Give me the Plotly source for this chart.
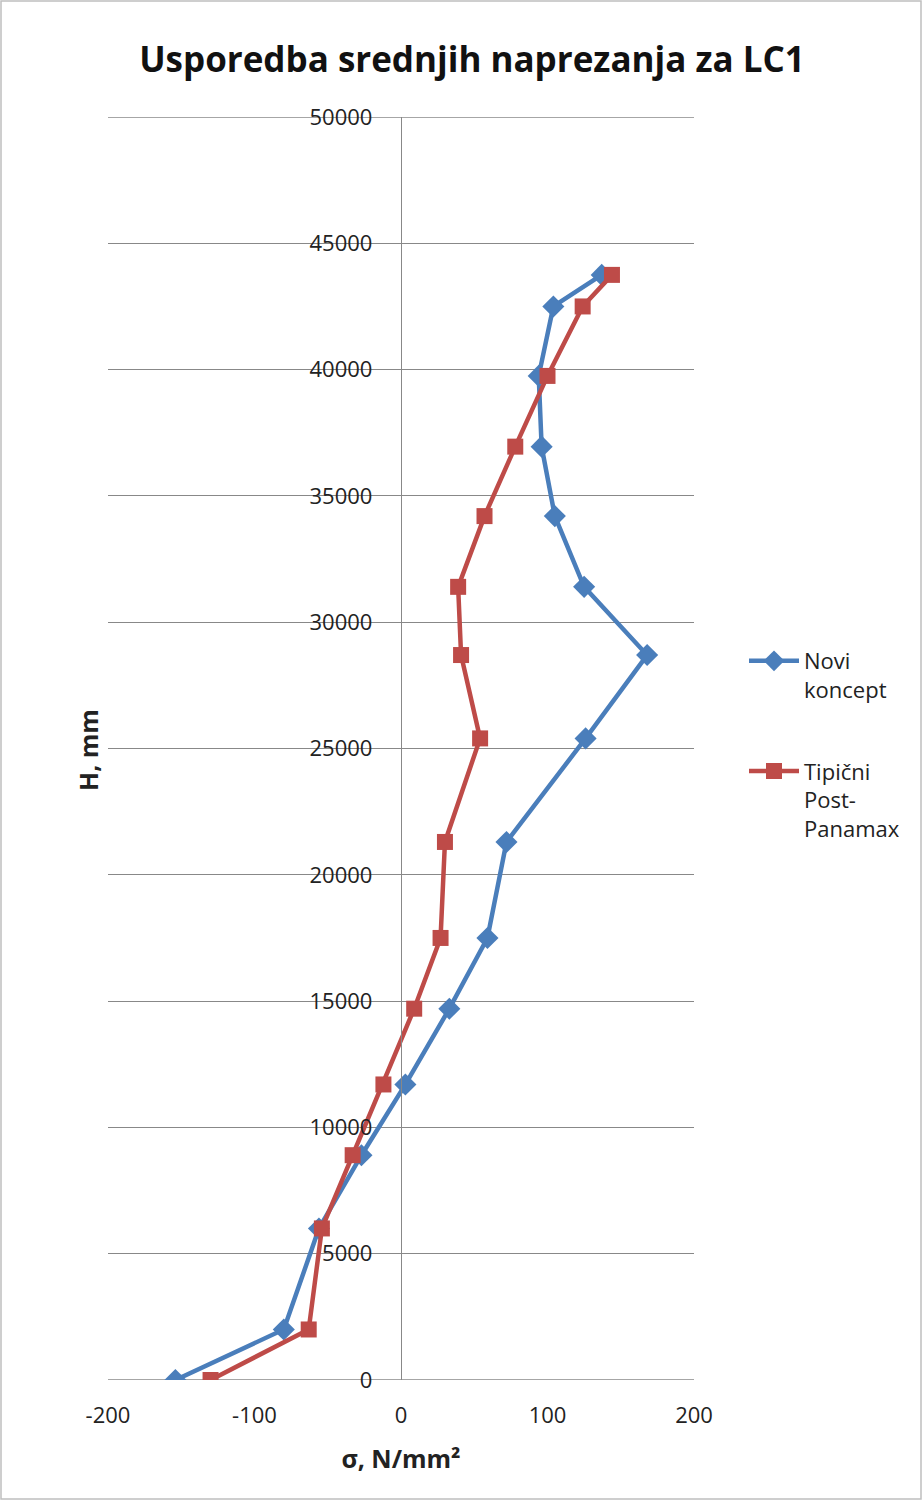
import plotly.graph_objects as go

H = [0, 2000, 6000, 8900, 11700, 14700, 17500, 21300, 25400, 28700, 31400, 34200, 36950, 39750, 42500, 43750]
novi_koncept = [-154, -80, -56, -27, 3, 33, 59, 72, 126, 168, 125, 105, 96, 94, 104, 137]
tipicni_post_panamax = [-130, -63, -54, -33, -12, 9, 27, 30, 54, 41, 39, 57, 78, 100, 124, 144]

x_ticks = [-200, -100, 0, 100, 200]
x_tick_labels = ["-200", "-100", "0", "100", "200"]
y_ticks = list(range(0, 50001, 5000))
y_tick_labels = [str(v) for v in y_ticks]

W, Hh = 923, 1501
L, R, T, B = 108, 229, 117, 121
dom_w = W - L - R
ph = Hh - T - B

fig = go.Figure()
fig.add_trace(go.Scatter(
    x=novi_koncept, y=H, mode="lines+markers", name="Novi<br>koncept",
    legendgroup="a",
    line=dict(color="#4A7EBB", width=4.5),
    marker=dict(symbol="diamond", size=17, color="#4A7EBB"),
))
fig.add_trace(go.Scatter(
    x=tipicni_post_panamax, y=H, mode="lines+markers", name="Tipični<br>Post-<br>Panamax",
    legendgroup="b",
    line=dict(color="#BE4B48", width=4.5),
    marker=dict(symbol="square", size=16, color="#BE4B48"),
))

font_family = "Open Sans, Liberation Sans, sans-serif"
ypos = (0 - x_ticks[0]) / (x_ticks[-1] - x_ticks[0])
grid_col = "#888888"

fig.update_layout(
    width=W, height=Hh,
    margin=dict(l=L, r=R, t=T, b=B),
    paper_bgcolor="white", plot_bgcolor="white",
    font=dict(family=font_family, color="#222222", size=21),
    title=dict(text="<b>Usporedba srednjih naprezanja za LC1</b>",
               x=(472 - L) / dom_w, xref="paper", xanchor="center",
               y=1 - 60 / Hh, yanchor="middle",
               font=dict(size=35, color="#111111")),
    showlegend=True,
    legend=dict(x=(744 - L) / dom_w, xanchor="left", y=(1380 - 640) / ph, yanchor="top",
                font=dict(size=22, color="#222222"), traceorder="grouped", tracegroupgap=50,
                itemwidth=50, valign="top", bgcolor="rgba(0,0,0,0)"),
    xaxis=dict(range=[-200, 200], tickvals=x_ticks, ticktext=x_tick_labels,
               showgrid=False, zeroline=False,
               showline=False, ticks="", ticklabelstandoff=20,
               tickfont=dict(size=22, color="#222222"),
               title=dict(text="<b>σ, N/mm²</b>", font=dict(size=25, color="#222222"), standoff=22)),
    yaxis=dict(range=[0, 50000], tickvals=y_ticks, ticktext=y_tick_labels,
               showgrid=True, gridcolor=grid_col, gridwidth=1.4,
               zeroline=False, showline=True, linecolor=grid_col, linewidth=1.4,
               anchor="free", position=ypos, ticks="", ticklabelstandoff=24,
               tickfont=dict(size=22, color="#222222"),
               title=dict(text="")),
)

# y-axis title placed at the left side (axis is positioned at x=0)
fig.add_annotation(text="<b>H, mm</b>", xref="paper", yref="paper",
                   x=(88 - L) / dom_w, y=(1380 - 750) / ph, textangle=-90,
                   xanchor="center", yanchor="middle",
                   showarrow=False, font=dict(size=25, color="#222222"))

# bottom and top boundary gridlines
for yv in (y_ticks[0], y_ticks[-1]):
    fig.add_shape(type="line", xref="x", yref="y", x0=-200, x1=200, y0=yv, y1=yv,
                  line=dict(color=grid_col, width=1.4), layer="below")

# outer chart border
fig.add_shape(type="rect", xref="paper", yref="paper",
              x0=(1 - L) / dom_w, x1=(W - 2 - L) / dom_w,
              y0=(1380 - (Hh - 2)) / ph, y1=(1380 - 1) / ph,
              line=dict(color="#BFBFBF", width=1.5), fillcolor="rgba(0,0,0,0)")

fig.write_html("out.html", config={"displayModeBar": False},
               post_script="document.body.style.margin='0';document.body.style.overflow='hidden';")
